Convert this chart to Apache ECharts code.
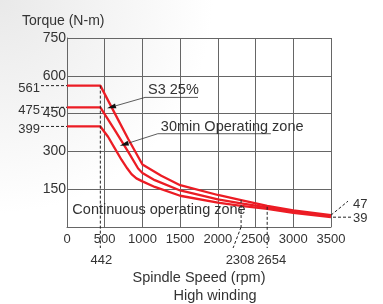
<!DOCTYPE html>
<html>
<head>
<meta charset="utf-8">
<script src="https://cdn.jsdelivr.net/npm/echarts@6/dist/echarts.min.js"></script>
<style>
html, body { margin: 0; padding: 0; background: #fff; }
#chart { width: 383px; height: 304px; }
</style>
</head>
<body>
<div id="chart"></div>
<script>
// S3 25% curve
var s3Speed = [0, 442, 632, 810, 1000, 1250, 1500, 2000, 2308, 2654, 3000, 3500];
var s3Torque = [561, 561, 452, 350, 248, 203, 166, 127, 107, 84, 66, 47];
// 30min operating zone curve
var minSpeed = [0, 442, 632, 810, 943, 1000, 1164, 1500, 2000, 2308, 2654, 3000, 3500];
var minTorque = [475, 475, 385, 299, 232, 214, 186, 145, 110, 94, 78, 62, 43];
// continuous curve
var contSpeed = [0, 442, 544, 632, 722, 800, 855, 920, 1000, 1164, 1500, 2000, 2308, 2654, 3000, 3500];
var contTorque = [399, 399, 358, 313, 267, 232, 210, 193, 181, 159, 124, 97, 84, 72, 56, 39];

var levelLabels = [561, 475, 399];
var cornerSpeed = 442;
var markSpeeds = [2308, 2654];
var endLabels = [47, 39];
var maxSpeed = 3500;

var FAMILY = '"Liberation Sans", Arial, sans-serif';
var NUMFONT = '13px ' + FAMILY;
var FONT = '14.5px ' + FAMILY;
var TXT = '#333';
var RED = '#ec1c24';

function pairs(xs, ys) {
    var out = [];
    for (var i = 0; i < xs.length; i++) out.push([xs[i], ys[i]]);
    return out;
}

var chart = echarts.init(document.getElementById('chart'));

chart.setOption({
    backgroundColor: new echarts.graphic.RadialGradient(0, 0, 0.7, [
        {offset: 0, color: '#e9e9e9'},
        {offset: 1, color: '#ffffff'}
    ]),
    animation: false,
    title: {
        text: 'Torque (N-m)',
        left: 17,
        top: 9,
        textStyle: {fontSize: 14, fontWeight: 'normal', color: TXT, fontFamily: FAMILY}
    },
    grid: {left: 67, right: 52, top: 38, bottom: 77},
    xAxis: {
        type: 'value',
        min: 0,
        max: 3500,
        interval: 500,
        name: 'Spindle Speed (rpm)',
        nameLocation: 'middle',
        nameGap: 43,
        nameTextStyle: {fontSize: 14.5, color: TXT, fontFamily: FAMILY, verticalAlign: 'top'},
        axisLine: {show: true, lineStyle: {color: '#666', width: 1}},
        axisTick: {show: false},
        axisLabel: {
            fontSize: 13, color: TXT, margin: 6, fontFamily: FAMILY,
            formatter: function (v) { return String(v); }
        },
        splitLine: {show: true, lineStyle: {color: '#666', width: 1}}
    },
    yAxis: {
        type: 'value',
        min: 0,
        max: 750,
        interval: 150,
        axisLine: {show: true, lineStyle: {color: '#666', width: 1}},
        axisTick: {show: false},
        axisLabel: {
            fontSize: 14, color: TXT, margin: 1, fontFamily: FAMILY, padding: [4, 0, 0, 0],
            formatter: function (v) { return v === 0 ? '' : String(v); }
        },
        splitLine: {show: true, lineStyle: {color: '#666', width: 1}}
    },
    series: [
        {type: 'line', data: pairs(s3Speed, s3Torque), showSymbol: false, symbol: 'none', lineStyle: {color: RED, width: 2.3}, z: 5},
        {type: 'line', data: pairs(minSpeed, minTorque), showSymbol: false, symbol: 'none', lineStyle: {color: RED, width: 2.3}, z: 5},
        {type: 'line', data: pairs(contSpeed, contTorque), showSymbol: false, symbol: 'none', lineStyle: {color: RED, width: 2.3}, z: 5}
    ]
});

function px(x, y) {
    return chart.convertToPixel({gridIndex: 0}, [x, y]);
}
function valAt(xs, ys, x) {
    return ys[xs.indexOf(x)];
}

var g = [];
var dash = {stroke: '#222', lineWidth: 1, lineDash: [3, 2]};

function line(a, b, style) {
    g.push({type: 'line', shape: {x1: a[0], y1: a[1], x2: b[0], y2: b[1]}, style: style || dash, z: 10, silent: true});
}
function text(t, x, y, align, font) {
    g.push({
        type: 'text', z: 10, silent: true,
        style: {
            text: t, x: x, y: y, font: font || FONT, fill: TXT,
            align: align || 'left', verticalAlign: 'middle',
            textAlign: align || 'left', textVerticalAlign: 'middle'
        }
    });
}

// left level labels with dashed leaders
levelLabels.forEach(function (v) {
    var p = px(0, v);
    line([p[0] - 26, p[1]], [p[0], p[1]]);
    text(String(v), p[0] - 27, p[1] + 3, 'right', NUMFONT);
});

// corner speed
var c1 = px(cornerSpeed, levelLabels[0]);
var c0 = px(cornerSpeed, 0);
line(c1, [c0[0], c0[1] + 21]);
text(String(cornerSpeed), c0[0] + 1, c0[1] + 33, 'center', NUMFONT);

// 2308
var m1 = px(markSpeeds[0], valAt(s3Speed, s3Torque, markSpeeds[0]));
var m0 = px(markSpeeds[0], 0);
line(m1, m0);
line(m0, [m0[0] - 8, m0[1] + 21]);
text(String(markSpeeds[0]), m0[0] - 1, m0[1] + 33, 'center', NUMFONT);

// 2654
var n1 = px(markSpeeds[1], valAt(s3Speed, s3Torque, markSpeeds[1]) - 4);
var n0 = px(markSpeeds[1], 0);
line(n1, [n0[0], n0[1] + 21]);
text(String(markSpeeds[1]), n0[0] + 4.5, n0[1] + 33, 'center', NUMFONT);

// end labels
var e1 = px(maxSpeed, endLabels[0]);
line(e1, [e1[0] + 17, e1[1] - 14]);
text(String(endLabels[0]), e1[0] + 22, e1[1] - 11, 'left', NUMFONT);
var e2 = px(maxSpeed, endLabels[1]);
line([e2[0] + 2, e2[1]], [e2[0] + 20, e2[1]]);
text(String(endLabels[1]), e2[0] + 22, e2[1] + 1.5, 'left', NUMFONT);

// zone notes with arrows
function note(label, textAt, tipAt, underlineW) {
    var t = px(textAt[0], textAt[1]);
    var tip = px(tipAt[0], tipAt[1]);
    text(label, t[0], t[1], 'left');
    var u = [t[0] - 3, t[1] + 7];
    line(u, [u[0] + underlineW, u[1]], {stroke: '#333', lineWidth: 0.8});
    var dx = tip[0] - u[0], dy = tip[1] - u[1];
    var len = Math.sqrt(dx * dx + dy * dy);
    dx /= len; dy /= len;
    var base = [tip[0] - dx * 9, tip[1] - dy * 9];
    line(u, base, {stroke: '#333', lineWidth: 0.8});
    g.push({
        type: 'polygon', z: 10, silent: true,
        shape: {points: [tip, [base[0] - dy * 2.5, base[1] + dx * 2.5], [base[0] + dy * 2.5, base[1] - dx * 2.5]]},
        style: {fill: '#111'}
    });
}
note('S3 25%', [1074, 542], [531, 471], 53);
note('30min Operating zone', [1244, 398], [700, 322], 113);

var ct = px(71, 69);
text('Continuous operating zone', ct[0], ct[1], 'left');

text('High winding', 215, 296, 'center');

chart.setOption({graphic: g});
</script>
</body>
</html>
